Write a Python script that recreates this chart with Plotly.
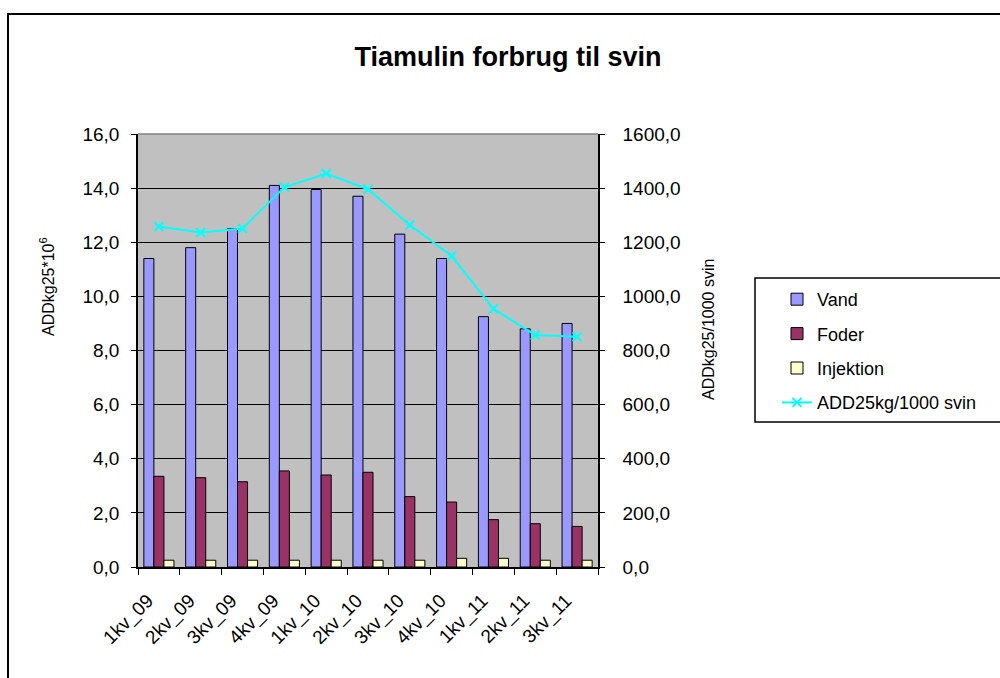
import plotly.graph_objects as go

categories = ["1kv_09", "2kv_09", "3kv_09", "4kv_09", "1kv_10", "2kv_10",
              "3kv_10", "4kv_10", "1kv_11", "2kv_11", "3kv_11"]
vand = [11.4, 11.8, 12.5, 14.1, 13.95, 13.7, 12.3, 11.4, 9.25, 8.8, 9.0]
foder = [3.35, 3.3, 3.15, 3.55, 3.4, 3.5, 2.6, 2.4, 1.75, 1.6, 1.5]
injektion = [0.25, 0.25, 0.25, 0.25, 0.25, 0.25, 0.25, 0.32, 0.32, 0.25, 0.25]
add25 = [1258, 1236, 1251, 1403, 1454, 1396, 1264, 1149, 954, 857, 851]

FONT = "Arial, Liberation Sans, sans-serif"

W, H = 1000, 678
L, R, T, B = 138, 598, 134, 567  # plot area pixel bounds


def px(x):
    return (x - L) / (R - L)


def py(y):
    return (B - y) / (B - T)


# tick text padded with non-breaking spaces so rotated labels end left of the category centre
tick_text = [c + "\u00a0\u00a0\u00a0" for c in categories]

fig = go.Figure()
fig.add_trace(go.Bar(x=categories, y=vand, name="Vand", legendgroup="g1",
                     marker=dict(color="#9999FF", line=dict(color="black", width=1))))
fig.add_trace(go.Bar(x=categories, y=foder, name="Foder", legendgroup="g2",
                     marker=dict(color="#993366", line=dict(color="black", width=1))))
fig.add_trace(go.Bar(x=categories, y=injektion, name="Injektion", legendgroup="g3",
                     marker=dict(color="#FFFFCC", line=dict(color="black", width=1))))
fig.add_trace(go.Scatter(x=categories, y=add25, name="ADD25kg/1000 svin", legendgroup="g4",
                         mode="lines+markers", yaxis="y2",
                         line=dict(color="#00FFFF", width=2),
                         marker=dict(symbol="x-thin", size=9, color="#00FFFF",
                                     line=dict(color="#00FFFF", width=2))))

fig.update_layout(
    width=W, height=H,
    margin=dict(l=L, r=W - R, t=T, b=H - B, pad=0),
    paper_bgcolor="white",
    plot_bgcolor="#C0C0C0",
    separators=",.",
    font=dict(family=FONT, size=18, color="black"),
    barmode="group", bargap=0.28, bargroupgap=0,
    title=dict(text="<b>Tiamulin forbrug til svin</b>", xref="paper", x=px(508), xanchor="center",
               yref="container", y=1 - 57 / H, yanchor="middle",
               font=dict(family=FONT, size=27, color="black")),
    xaxis=dict(type="category", range=[-0.5, len(categories) - 0.5],
               tickvals=categories, ticktext=tick_text,
               showline=True, linecolor="black", linewidth=1.5,
               ticks="outside", tickson="boundaries", ticklen=6, tickcolor="black",
               tickangle=-45, tickfont=dict(size=19), showgrid=False, ticklabelstandoff=2),
    yaxis=dict(range=[0, 16], dtick=2, tickformat=".1f", showline=True, linecolor="black",
               linewidth=1.5, ticks="outside", ticklen=5, tickcolor="black",
               gridcolor="black", gridwidth=1, zeroline=False, tickfont=dict(size=19),
               ticklabelstandoff=8),
    yaxis2=dict(range=[0, 1600], dtick=200, tickformat=".1f", overlaying="y", side="right",
                showline=True, linecolor="black", linewidth=1.5, ticks="outside", ticklen=5,
                tickcolor="black", showgrid=False, zeroline=False, tickfont=dict(size=19),
                ticklabelstandoff=14),
    showlegend=True,
    legend=dict(x=px(777), y=py(281), xanchor="left", yanchor="top",
                bgcolor="rgba(0,0,0,0)", borderwidth=0, tracegroupgap=8,
                font=dict(size=18), traceorder="grouped"),
    shapes=[
        # outer chart frame
        dict(type="rect", xref="paper", yref="paper", x0=px(8), x1=px(1010), y0=py(690), y1=py(14),
             line=dict(color="black", width=2), fillcolor="rgba(0,0,0,0)", layer="above"),
        # plot area top border
        dict(type="line", xref="paper", yref="paper", x0=0, x1=1, y0=1, y1=1,
             line=dict(color="#808080", width=1.5), layer="above"),
        # legend frame
        dict(type="rect", xref="paper", yref="paper", x0=px(755), x1=px(1010), y0=py(422), y1=py(278),
             line=dict(color="black", width=1.5), fillcolor="rgba(0,0,0,0)", layer="above"),
    ],
    annotations=[
        dict(text="ADDkg25*10<sup>6</sup>", xref="paper", yref="paper", x=px(47), y=py(287),
             xanchor="center", yanchor="middle", textangle=-90, showarrow=False,
             font=dict(size=16)),
        dict(text="ADDkg25/1000 svin", xref="paper", yref="paper", x=px(708), y=py(330),
             xanchor="center", yanchor="middle", textangle=-90, showarrow=False,
             font=dict(size=16)),
    ],
)

fig.write_html("out.html", config={"displayModeBar": False},
               post_script="document.body.style.margin='0';")
